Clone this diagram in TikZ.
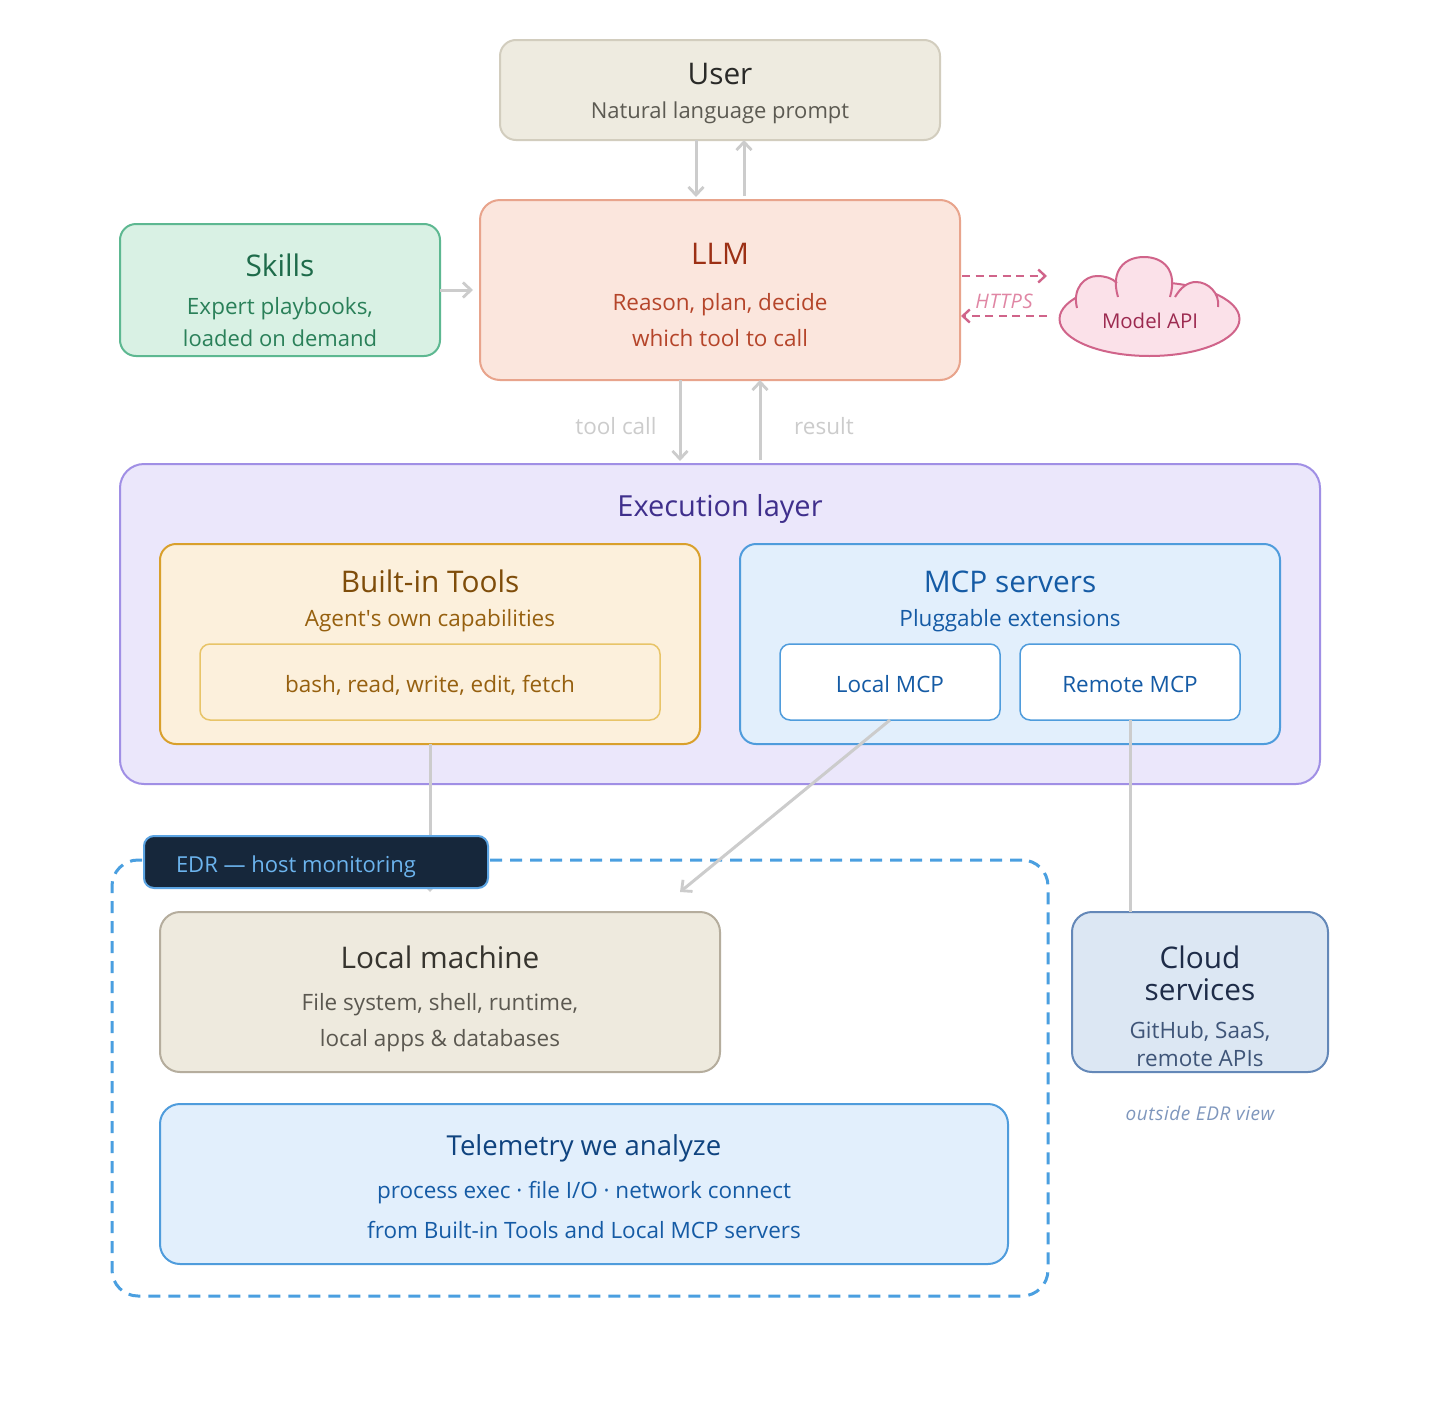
\documentclass[tikz,border=0pt]{standalone}
\usepackage{fontspec}
\setmainfont{Open Sans}
\newfontfamily\rawfont{Open Sans}
\newfontfamily\spacedit[ItalicFont=*-Italic,LetterSpace=3]{Open Sans}
\usetikzlibrary{arrows.meta}
\definecolor{wire}{HTML}{CCCCCC}
\definecolor{pinkline}{HTML}{D0648A}
\definecolor{edrblue}{HTML}{4A9FE0}
\definecolor{cloudfill}{HTML}{FBE1E9}
\definecolor{userLine}{HTML}{D2CDBE}
\definecolor{userFill}{HTML}{EEEBE0}
\definecolor{userTitle}{HTML}{2A2A28}
\definecolor{userSub}{HTML}{5C5A52}
\definecolor{llmLine}{HTML}{E8A48C}
\definecolor{llmFill}{HTML}{FBE6DD}
\definecolor{llmTitle}{HTML}{9C3015}
\definecolor{llmSub}{HTML}{B5452A}
\definecolor{skillLine}{HTML}{5DB891}
\definecolor{skillFill}{HTML}{D9F1E4}
\definecolor{skillTitle}{HTML}{1E6B4A}
\definecolor{skillSub}{HTML}{2A8059}
\definecolor{apiText}{HTML}{9C2A50}
\definecolor{httpsText}{HTML}{E086A4}
\definecolor{execLine}{HTML}{A08FE5}
\definecolor{execFill}{HTML}{EBE7FB}
\definecolor{execTitle}{HTML}{3F2F8C}
\definecolor{toolLine}{HTML}{D9A02C}
\definecolor{toolFill}{HTML}{FCF0DC}
\definecolor{toolTitle}{HTML}{7F4D0A}
\definecolor{toolSub}{HTML}{96600F}
\definecolor{toolInner}{HTML}{E8C468}
\definecolor{mcpLine}{HTML}{4F9CDC}
\definecolor{mcpFill}{HTML}{E2EFFC}
\definecolor{mcpText}{HTML}{155BA5}
\definecolor{machLine}{HTML}{B5AD9D}
\definecolor{machFill}{HTML}{EEEADE}
\definecolor{machTitle}{HTML}{36342E}
\definecolor{machSub}{HTML}{5B5850}
\definecolor{teleTitle}{HTML}{0F437F}
\definecolor{cloudLine}{HTML}{6488B8}
\definecolor{cloudBox}{HTML}{DCE7F3}
\definecolor{cloudTitle}{HTML}{1E2C48}
\definecolor{cloudSub}{HTML}{3F5578}
\definecolor{noteText}{HTML}{7F97BD}
\definecolor{badgeLine}{HTML}{5CA4E2}
\definecolor{badgeFill}{HTML}{16273B}
\definecolor{badgeText}{HTML}{6CB4EE}
\tikzset{
  panel/.style={draw, rounded corners=#1, line width=2pt, inner sep=0pt, outer sep=0pt, anchor=north west},
  panel/.default=16pt,
  ttl/.style={font=\fontsize{29.8}{34}\selectfont, inner sep=0pt, outer sep=0pt, text height=30pt, text depth=7pt, anchor=center},
  sub/.style={font=\fontsize{22.5}{27}\selectfont, inner sep=0pt, outer sep=0pt, text height=21pt, text depth=5pt, anchor=center},
  wirearrow/.style={draw=wire, line width=3pt, -{Straight Barb[length=8pt,width=15pt,line width=2.8pt]}},
  wireline/.style={draw=wire, line width=3pt},
  pinkarrow/.style={draw=pinkline, line width=2.6pt, dash pattern=on 8pt off 5.5pt, -{Straight Barb[length=7pt,width=13pt,line width=2.4pt]}},
}
\begin{document}
\begin{tikzpicture}[x=1pt,y=-1pt]
\useasboundingbox (0,0) rectangle (1440,1400);
\fill[white] (0,0) rectangle (1440,1400);

% top
\node[panel, draw=userLine, fill=userFill, minimum width=440pt, minimum height=100pt] (user) at (500,40) {};
\node[panel=20pt, draw=llmLine, fill=llmFill, minimum width=480pt, minimum height=180pt] (llm) at (480,200) {};
\node[panel, draw=skillLine, fill=skillFill, minimum width=320pt, minimum height=132pt] (skills) at (120,224) {};

\node[ttl, text=userTitle] (userT) at (720,73) {User};
\node[sub, text=userSub, font=\fontsize{22}{27}\selectfont] (userS) at (720,110) {Natural language prompt};
\node[ttl, text=llmTitle] (llmT) at (720,253) {LLM};
\node[sub, text=llmSub] (llmS1) at (720,302) {Reason, plan, decide};
\node[sub, text=llmSub] (llmS2) at (720,338) {which tool to call};
\node[ttl, text=skillTitle] (skillsT) at (280,265) {Skills};
\node[sub, text=skillSub] (skillsS1) at (280,306) {Expert playbooks,};
\node[sub, text=skillSub, font=\fontsize{22}{27}\selectfont] (skillsS2) at (280,338) {loaded on demand};

% cloud
\draw[pinkline, fill=cloudfill, line width=2pt] (1149.5,319) ellipse [x radius=90pt, y radius=37pt];
\fill[cloudfill] (1077,308) .. controls (1072,288) and (1085,276) .. (1097,276) .. controls (1105,276) and (1112,278) .. (1117,283) -- (1122,292) -- cycle;
\fill[cloudfill] (1118,297) .. controls (1110,270) and (1125,257) .. (1144,257) .. controls (1163,257) and (1178,270) .. (1170,297) -- cycle;
\fill[cloudfill] (1175,297) .. controls (1181,287) and (1188,282) .. (1196,282) .. controls (1208,282) and (1220,293) .. (1218,307) -- cycle;
\draw[pinkline, line width=2pt] (1077,308) .. controls (1072,288) and (1085,276) .. (1097,276) .. controls (1105,276) and (1112,278) .. (1117,283);
\draw[pinkline, line width=2pt] (1118,297) .. controls (1110,270) and (1125,257) .. (1144,257) .. controls (1163,257) and (1178,270) .. (1170,297);
\draw[pinkline, line width=2pt] (1175,297) .. controls (1181,287) and (1188,282) .. (1196,282) .. controls (1208,282) and (1220,293) .. (1218,307);
\node[font=\fontsize{20.4}{24}\selectfont, text=apiText, inner sep=0pt] (api) at (1150,321) {Model API};
\node[font=\spacedit\itshape\fontsize{20}{22}\selectfont, text=httpsText, inner sep=0pt] (https) at (1004,301) {HTTPS};
\coordinate (apiIn) at (1047,276);
\coordinate (apiOut) at (1047,316);

% execution layer
\node[panel=24pt, draw=execLine, fill=execFill, minimum width=1200pt, minimum height=320pt] (exec) at (120,464) {};
\node[ttl, text=execTitle, font=\fontsize{29}{34}\selectfont] (execT) at (720,505) {Execution layer};
\node[panel, draw=toolLine, fill=toolFill, minimum width=540pt, minimum height=200pt] (builtin) at (160,544) {};
\node[ttl, text=toolTitle] (builtinT) at (430,581) {Built-in Tools};
\node[sub, text=toolSub] (builtinS) at (430,618) {Agent{\rawfont\char39}s own capabilities};
\node[panel=10pt, line width=1.5pt, draw=toolInner, fill=toolFill, minimum width=460pt, minimum height=76pt] (tools) at (200,644) {};
\node[sub, text=toolSub] (toolsT) at (430,684) {bash, read, write, edit, fetch};
\node[panel, draw=mcpLine, fill=mcpFill, minimum width=540pt, minimum height=200pt] (mcp) at (740,544) {};
\node[ttl, text=mcpText] (mcpT) at (1010,581) {MCP servers};
\node[sub, text=mcpText] (mcpS) at (1010,618) {Pluggable extensions};
\node[panel=10pt, line width=1.5pt, draw=mcpLine, fill=white, minimum width=220pt, minimum height=76pt] (localmcp) at (780,644) {};
\node[sub, text=mcpText] (localmcpT) at (890,684) {Local MCP};
\node[panel=10pt, line width=1.5pt, draw=mcpLine, fill=white, minimum width=220pt, minimum height=76pt] (remotemcp) at (1020,644) {};
\node[sub, text=mcpText] (remotemcpT) at (1130,684) {Remote MCP};

% EDR zone
\node[panel=26pt, draw=edrblue, line width=3pt, dash pattern=on 12pt off 8pt, minimum width=936pt, minimum height=436pt] (edr) at (112,860) {};

% lower boxes
\node[panel=20pt, draw=machLine, fill=machFill, minimum width=560pt, minimum height=160pt] (machine) at (160,912) {};
\node[ttl, text=machTitle] (machineT) at (440,957) {Local machine};
\node[sub, text=machSub] (machineS1) at (440,1002) {File system, shell, runtime,};
\node[sub, text=machSub] (machineS2) at (440,1038) {local apps \& databases};
\node[panel=20pt, draw=mcpLine, fill=mcpFill, minimum width=848pt, minimum height=160pt] (telemetry) at (160,1104) {};
\node[ttl, text=teleTitle, font=\fontsize{27.5}{32}\selectfont] (telemetryT) at (584,1144) {Telemetry we analyze};
\node[sub, text=mcpText] (telemetryS1) at (584,1190) {process exec · file I/O · network connect};
\node[sub, text=mcpText] (telemetryS2) at (584,1230) {from Built-in Tools and Local MCP servers};

% cloud services (placed now so that the remote line can name it)
\node[panel=20pt, draw=cloudLine, fill=cloudBox, minimum width=256pt, minimum height=160pt] (cloud) at (1072,912) {};

% connectors
\coordinate (machineTip) at (430,892);
\coordinate (machineDiag) at (680,892);
\draw[wirearrow] ([xshift=-24pt]user.south) -- ([shift={(-24,-3)}]llm.north);
\draw[wirearrow] ([shift={(24,-4)}]llm.north) -- ([xshift=24pt]user.south);
\draw[wirearrow] (skills.east) -- ([xshift=-7pt]llm.west);
\draw[wirearrow] ([xshift=-40pt]llm.south) -- ([shift={(-40,-3)}]exec.north);
\draw[wirearrow] ([shift={(40,-4)}]exec.north) -- ([xshift=40pt]llm.south);
\draw[pinkarrow] ([xshift=2pt]llm.east |- apiIn) -- (apiIn);
\draw[pinkarrow] (apiOut) -- ([xshift=1pt]llm.east |- apiOut);
\draw[wirearrow] (builtin.south) -- (machineTip);
\draw[wirearrow] (localmcp.south) -- (machineDiag);
\draw[wireline] (remotemcp.south) -- (remotemcp.south |- cloud.north);

\node[sub, text=wire] (toolcall) at (616,426) {tool call};
\node[sub, text=wire] (result) at (824,426) {result};

% cloud services text
\node[ttl, text=cloudTitle] (cloudT1) at (1200,957) {Cloud};
\node[ttl, text=cloudTitle] (cloudT2) at (1200,989) {services};
\node[sub, text=cloudSub] (cloudS1) at (1200,1030) {GitHub, SaaS,};
\node[sub, text=cloudSub] (cloudS2) at (1200,1058) {remote APIs};
\node[font=\spacedit\itshape\fontsize{19}{22}\selectfont, text=noteText, inner sep=0pt] (outside) at (1200,1113) {outside EDR view};

% EDR badge
\node[panel=10pt, draw=badgeLine, fill=badgeFill, minimum width=344pt, minimum height=52pt] (badge) at (144,836) {};
\node[sub, text=badgeText, anchor=west, font=\fontsize{22}{27}\selectfont] (badgeT) at (176,864) {EDR — host monitoring};
\end{tikzpicture}
\end{document}
